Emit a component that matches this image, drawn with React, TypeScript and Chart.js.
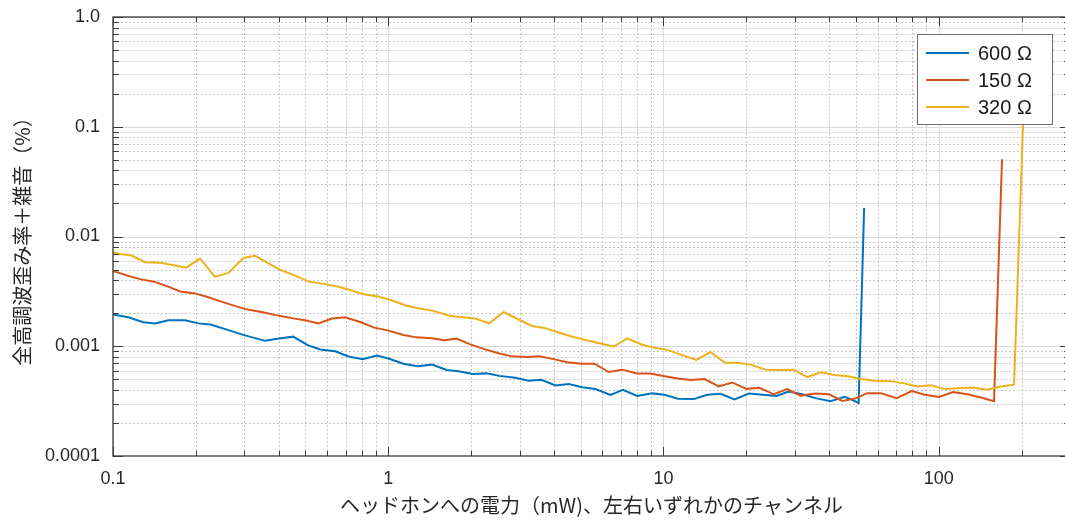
import React, { useEffect, useRef } from 'react';
import { Chart, registerables } from 'chart.js';

Chart.register(...registerables);

// ---------- data ----------
const seriesNames = ['600 Ω', '150 Ω', '320 Ω'];
const seriesColors = ['#0072BD', '#D95319', '#EDB120'];

const x600 = [0.1, 0.1137, 0.1288, 0.1422, 0.1589, 0.1827, 0.2042, 0.2262, 0.2609, 0.2996, 0.357, 0.4015, 0.4513, 0.5097, 0.5659, 0.6418, 0.7171, 0.8079, 0.9096, 1.008, 1.143, 1.28, 1.442, 1.632, 1.801, 2.029, 2.272, 2.533, 2.896, 3.237, 3.601, 4.049, 4.525, 5.064, 5.658, 6.418, 7.125, 8.025, 9.097, 10.08, 11.29, 12.89, 14.42, 16.12, 18.12, 20.43, 23.0, 25.75, 28.48, 31.88, 36.01, 40.49, 45.53, 48.56, 51.18, 53.6];
const y600 = [0.00195, 0.00184, 0.001657, 0.001616, 0.001728, 0.001721, 0.001616, 0.001576, 0.001411, 0.001262, 0.00112, 0.001175, 0.001223, 0.001023, 0.000933, 0.000899, 0.000806, 0.00076, 0.000821, 0.000768, 0.000689, 0.000656, 0.00068, 0.000607, 0.000591, 0.00056, 0.000566, 0.000537, 0.000516, 0.000484, 0.000494, 0.00044, 0.000452, 0.000424, 0.000407, 0.000361, 0.000401, 0.000352, 0.000372, 0.000361, 0.000332, 0.00033, 0.000361, 0.000369, 0.000328, 0.000371, 0.000361, 0.000353, 0.000387, 0.000365, 0.000335, 0.000315, 0.000346, 0.000325, 0.000303, 0.0182];

const x150 = [0.1, 0.1137, 0.1264, 0.141, 0.1578, 0.1767, 0.197, 0.2206, 0.2491, 0.2802, 0.3123, 0.354, 0.4015, 0.4513, 0.4992, 0.5578, 0.6243, 0.6976, 0.791, 0.8893, 0.9959, 1.137, 1.264, 1.442, 1.598, 1.767, 1.987, 2.221, 2.518, 2.818, 3.175, 3.54, 3.992, 4.465, 5.033, 5.611, 6.327, 7.077, 8.025, 8.968, 10.08, 11.29, 12.54, 14.1, 15.89, 17.78, 20.03, 22.34, 25.18, 28.17, 31.49, 35.71, 39.92, 44.65, 49.92, 55.05, 61.53, 70.37, 79.78, 88.96, 100.3, 112.9, 127.2, 143.3, 158.9, 169.9];
const y150 = [0.004861, 0.004377, 0.004068, 0.003876, 0.003512, 0.003144, 0.003046, 0.002806, 0.002538, 0.002309, 0.002146, 0.002027, 0.001892, 0.001795, 0.001728, 0.001616, 0.001787, 0.001833, 0.001661, 0.001477, 0.001396, 0.001265, 0.001205, 0.00118, 0.001132, 0.001173, 0.001041, 0.000947, 0.000862, 0.000809, 0.000797, 0.000809, 0.000763, 0.000714, 0.000694, 0.000694, 0.000582, 0.000612, 0.000564, 0.000564, 0.000534, 0.000509, 0.000492, 0.000503, 0.00043, 0.000468, 0.000409, 0.000418, 0.000365, 0.000407, 0.000355, 0.000371, 0.000365, 0.000317, 0.000335, 0.000374, 0.000374, 0.000337, 0.00039, 0.000361, 0.000345, 0.000382, 0.000365, 0.00034, 0.000316, 0.0506];

const x320 = [0.1, 0.106, 0.1169, 0.1307, 0.1482, 0.168, 0.1842, 0.2072, 0.2349, 0.2627, 0.2978, 0.3284, 0.3631, 0.4049, 0.4525, 0.5118, 0.5754, 0.6554, 0.7274, 0.8132, 0.9096, 1.021, 1.158, 1.296, 1.458, 1.667, 1.866, 2.089, 2.33, 2.627, 2.938, 3.33, 3.692, 4.134, 4.629, 5.161, 5.851, 6.597, 7.397, 8.318, 9.275, 10.31, 11.63, 13.18, 14.82, 16.67, 18.79, 20.72, 23.49, 26.42, 29.77, 33.3, 37.23, 41.87, 46.87, 52.05, 58.51, 66.91, 74.78, 83.65, 93.52, 105.1, 118.5, 132.6, 149.4, 168.1, 187.9, 206.3];
const y320 = [0.0072, 0.00694, 0.0067, 0.00583, 0.00578, 0.00543, 0.00521, 0.00629, 0.00429, 0.00466, 0.00638, 0.00666, 0.00578, 0.00496, 0.00447, 0.0039, 0.00372, 0.0035, 0.00325, 0.00298, 0.00285, 0.00264, 0.00235, 0.00221, 0.0021, 0.0019, 0.00184, 0.00178, 0.001616, 0.00205, 0.00178, 0.00153, 0.00147, 0.00134, 0.001226, 0.001144, 0.001065, 0.000994, 0.00118, 0.001038, 0.000967, 0.000927, 0.000835, 0.000752, 0.000886, 0.00071, 0.000703, 0.00068, 0.00061, 0.000607, 0.000612, 0.000524, 0.000579, 0.000547, 0.000533, 0.000503, 0.000484, 0.000481, 0.000459, 0.00043, 0.000442, 0.000407, 0.000415, 0.000421, 0.000401, 0.00043, 0.000447, 0.4];

const xTickValues = [0.1, 1, 10, 100];
const xTickLabels = ['0.1', '1', '10', '100'];
const yTickValues = [0.0001, 0.001, 0.01, 0.1, 1];
const yTickLabels = ['0.0001', '0.001', '0.01', '0.1', '1.0'];
const xMin = 0.1;
const xMax = 300;
const yMin = 0.0001;
const yMax = 1;

const xTitle = 'ヘッドホンへの電力（mW)、左右いずれかのチャンネル';
const yTitle = '全高調波歪み率＋雑音（%）';

// ---------- helpers ----------
const LATIN = '"Liberation Sans", Arial, Helvetica, sans-serif';
const CJK = '"Noto Sans CJK JP", "Liberation Sans", sans-serif';
const AXIS_COLOR = '#3a3a3a';

function logGridValues(min: number, max: number) {
  const out: { v: number; major: boolean }[] = [];
  const e0 = Math.floor(Math.log10(min));
  const e1 = Math.ceil(Math.log10(max));
  for (let e = e0; e <= e1; e++) {
    for (let k = 1; k <= 9; k++) {
      const v = k * Math.pow(10, e);
      if (v >= min * 0.9999 && v <= max * 1.0001) out.push({ v, major: k === 1 });
    }
  }
  return out;
}

const matlabAxes = {
  id: 'matlabAxes',
  beforeDatasetsDraw(chart: any) {
    const { ctx, chartArea: a, scales } = chart;
    const xs = scales.x;
    const ys = scales.y;
    ctx.save();
    ctx.beginPath();
    ctx.rect(a.left, a.top, a.right - a.left, a.bottom - a.top);
    ctx.clip();
    ctx.lineWidth = 1;
    const xg = logGridValues(xMin, xMax);
    const yg = logGridValues(yMin, yMax);
    ctx.setLineDash([2, 2]);
    ctx.strokeStyle = '#c6c6c6';
    for (const g of xg) {
      if (g.major) continue;
      const px = Math.round(xs.getPixelForValue(g.v)) + 0.5;
      ctx.beginPath();
      ctx.moveTo(px, a.top);
      ctx.lineTo(px, a.bottom);
      ctx.stroke();
    }
    for (const g of yg) {
      if (g.major) continue;
      const py = Math.round(ys.getPixelForValue(g.v)) + 0.5;
      ctx.beginPath();
      ctx.moveTo(a.left, py);
      ctx.lineTo(a.right, py);
      ctx.stroke();
    }
    ctx.setLineDash([]);
    ctx.strokeStyle = '#dadada';
    for (const g of xg) {
      if (!g.major) continue;
      const px = Math.round(xs.getPixelForValue(g.v)) + 0.5;
      ctx.beginPath();
      ctx.moveTo(px, a.top);
      ctx.lineTo(px, a.bottom);
      ctx.stroke();
    }
    for (const g of yg) {
      if (!g.major) continue;
      const py = Math.round(ys.getPixelForValue(g.v)) + 0.5;
      ctx.beginPath();
      ctx.moveTo(a.left, py);
      ctx.lineTo(a.right, py);
      ctx.stroke();
    }
    ctx.restore();
  },
  afterDatasetsDraw(chart: any) {
    const { ctx, chartArea: a, scales } = chart;
    const xs = scales.x;
    const ys = scales.y;
    ctx.save();
    ctx.strokeStyle = AXIS_COLOR;
    ctx.lineWidth = 1.3;
    ctx.strokeRect(a.left, a.top, a.right - a.left, a.bottom - a.top);
    ctx.lineWidth = 1;
    for (const g of logGridValues(xMin, xMax)) {
      const px = Math.round(xs.getPixelForValue(g.v)) + 0.5;
      const len = g.major ? 9 : 5;
      ctx.beginPath();
      ctx.moveTo(px, a.bottom);
      ctx.lineTo(px, a.bottom - len);
      ctx.moveTo(px, a.top);
      ctx.lineTo(px, a.top + len);
      ctx.stroke();
    }
    for (const g of logGridValues(yMin, yMax)) {
      const py = Math.round(ys.getPixelForValue(g.v)) + 0.5;
      const len = g.major ? 10 : 6;
      ctx.beginPath();
      ctx.moveTo(a.left, py);
      ctx.lineTo(a.left + len, py);
      ctx.moveTo(a.right, py);
      ctx.lineTo(a.right - len, py);
      ctx.stroke();
    }
    ctx.restore();
  },
  afterDraw(chart: any) {
    const { ctx, chartArea: a } = chart;
    const boxW = 135;
    const boxH = 90;
    const bx = a.right - 18 - boxW;
    const by = a.top + 17;
    ctx.save();
    ctx.fillStyle = '#ffffff';
    ctx.fillRect(bx, by, boxW, boxH);
    ctx.strokeStyle = '#6e6e6e';
    ctx.lineWidth = 1;
    ctx.strokeRect(bx + 0.5, by + 0.5, boxW, boxH);
    ctx.font = `20px ${LATIN}`;
    ctx.textBaseline = 'middle';
    ctx.textAlign = 'left';
    chart.data.datasets.forEach((ds: any, i: number) => {
      const cy = by + 19 + i * 27;
      ctx.strokeStyle = ds.borderColor;
      ctx.lineWidth = 2;
      ctx.beginPath();
      ctx.moveTo(bx + 9, cy);
      ctx.lineTo(bx + 52, cy);
      ctx.stroke();
      ctx.fillStyle = '#1a1a1a';
      ctx.fillText(ds.label, bx + 61, cy + 1);
    });
    ctx.restore();
  },
};

export default function App() {
  const canvasRef = useRef<HTMLCanvasElement | null>(null);

  useEffect(() => {
    if (!canvasRef.current) return;
    const xsArr = [x600, x150, x320];
    const ysArr = [y600, y150, y320];
    const datasets = seriesNames.map((name, i) => ({
      label: name,
      data: xsArr[i].map((x, j) => ({ x, y: ysArr[i][j] })),
      borderColor: seriesColors[i],
      backgroundColor: seriesColors[i],
      borderWidth: 2,
      pointRadius: 0,
      tension: 0,
      fill: false,
      order: 2 - i,
    }));

    const chart = new Chart(canvasRef.current, {
      type: 'line',
      data: { datasets },
      plugins: [matlabAxes],
      options: {
        animation: false,
        responsive: true,
        maintainAspectRatio: false,
        layout: { padding: { left: 0, right: 5, top: 17, bottom: 0 } },
        plugins: {
          legend: { display: false },
          tooltip: { enabled: false },
        },
        scales: {
          x: {
            type: 'logarithmic',
            min: xMin,
            max: xMax,
            afterBuildTicks: (s: any) => {
              s.ticks = xTickValues.map((v) => ({ value: v }));
            },
            afterFit: (s: any) => {
              s.height = 69;
              s.paddingLeft = 0;
              s.paddingRight = 0;
              s.paddingTop = 0;
              s.paddingBottom = 0;
            },
            grid: { display: false, drawTicks: false },
            border: { display: false },
            ticks: {
              autoSkip: false,
              maxRotation: 0,
              padding: 12,
              color: '#262626',
              font: { family: LATIN, size: 18 },
              callback: (_v: any, i: number) => xTickLabels[i],
            },
            title: {
              display: true,
              text: xTitle,
              color: '#262626',
              font: { family: CJK, size: 20 },
              padding: { top: 0, bottom: 8 },
            },
          },
          y: {
            type: 'logarithmic',
            min: yMin,
            max: yMax,
            afterBuildTicks: (s: any) => {
              s.ticks = yTickValues.map((v) => ({ value: v }));
            },
            afterFit: (s: any) => {
              s.width = 113;
              s.paddingLeft = 0;
              s.paddingRight = 0;
              s.paddingTop = 0;
              s.paddingBottom = 0;
            },
            grid: { display: false, drawTicks: false },
            border: { display: false },
            ticks: {
              autoSkip: false,
              padding: 13,
              color: '#262626',
              font: { family: LATIN, size: 18 },
              callback: (_v: any, i: number) => yTickLabels[i],
            },
            title: {
              display: true,
              text: yTitle,
              color: '#262626',
              font: { family: CJK, size: 20 },
              padding: { top: 10, bottom: 0 },
            },
          },
        },
      } as any,
    });
    return () => chart.destroy();
  }, []);

  return (
    <div
      style={{
        position: 'absolute',
        left: 0,
        top: 0,
        width: 1065,
        height: 525,
        overflow: 'hidden',
        background: '#ffffff',
      }}
    >
      <div style={{ position: 'relative', width: 1075, height: 525 }}>
        <canvas ref={canvasRef} />
      </div>
    </div>
  );
}
